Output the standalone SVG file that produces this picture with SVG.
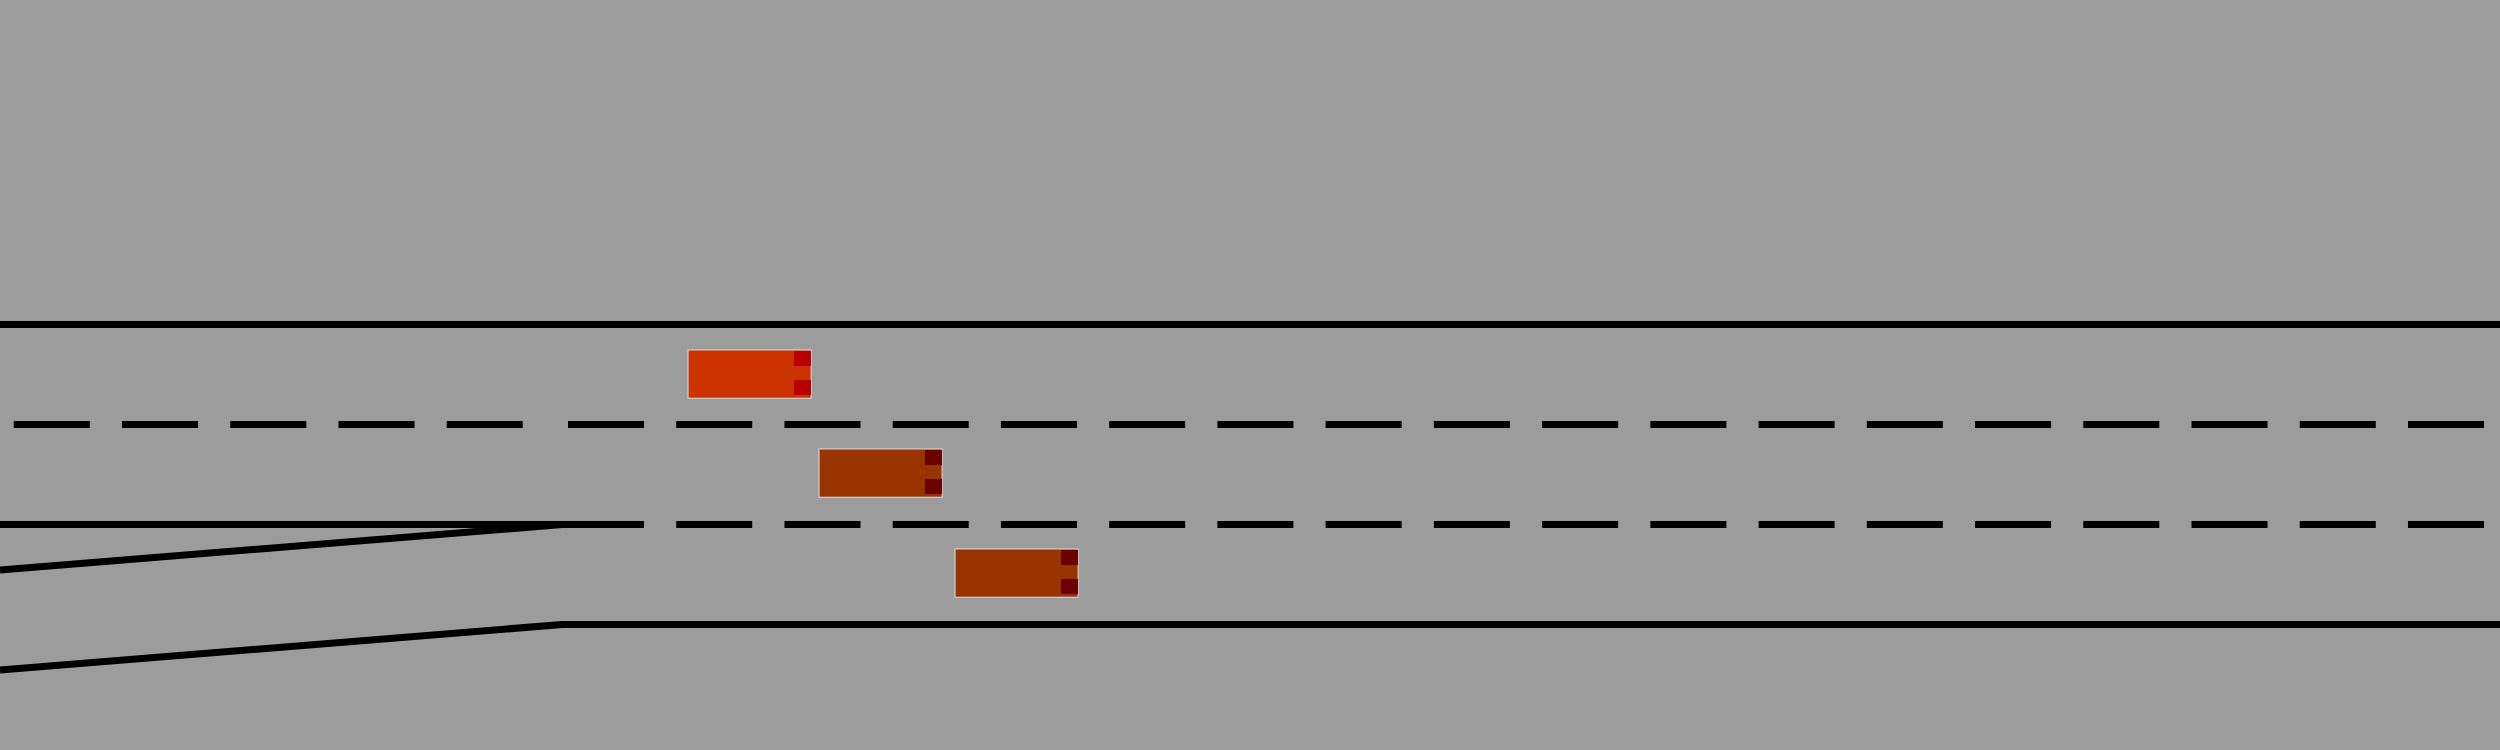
<svg xmlns="http://www.w3.org/2000/svg" width="2500" height="750" viewBox="0 0 2500 750">
  <style>
    .road { stroke: #000; stroke-width: 7; fill: none; }
    .dash { stroke: #000; stroke-width: 7; fill: none; stroke-dasharray: 76 32.235; }
    .body { stroke: #d0d0d0; stroke-width: 1.2; }
    .car1 .body { fill: #cc3300; }
    .car1 .light { fill: #b80000; }
    .car2 .body, .car3 .body { fill: #993300; }
    .car2 .light, .car3 .light { fill: #6b0000; }
  </style>
  <rect x="0" y="0" width="2500" height="750" fill="#9c9c9c"/>
  <g id="road">
    <line class="road" x1="0" y1="324.5" x2="2500" y2="324.5"/>
    <line class="road" x1="0" y1="524.5" x2="600" y2="524.5"/>
    <line class="road" x1="560" y1="624.5" x2="2500" y2="624.5"/>
    <line class="road" x1="0" y1="570" x2="562" y2="524.5"/>
    <line class="road" x1="0" y1="670" x2="562" y2="624.5"/>
    <line class="dash" x1="13.8" y1="424.5" x2="523" y2="424.5"/>
    <line class="dash" x1="568" y1="424.5" x2="2500" y2="424.5"/>
    <line class="dash" x1="568" y1="524.5" x2="2500" y2="524.5"/>
  </g>
  <g id="car1" class="car1">
    <rect class="body" x="688" y="349.9" width="123.2" height="48.4"/>
    <rect class="light" x="794" y="351" width="17" height="15"/>
    <rect class="light" x="794" y="380" width="17" height="15"/>
  </g>
  <g id="car2" class="car2">
    <rect class="body" x="819" y="448.9" width="123.2" height="48.4"/>
    <rect class="light" x="925" y="450" width="17" height="15"/>
    <rect class="light" x="925" y="479" width="17" height="15"/>
  </g>
  <g id="car3" class="car3">
    <rect class="body" x="955" y="548.9" width="123.2" height="48.4"/>
    <rect class="light" x="1061" y="550" width="17" height="15"/>
    <rect class="light" x="1061" y="579" width="17" height="15"/>
  </g>
</svg>
